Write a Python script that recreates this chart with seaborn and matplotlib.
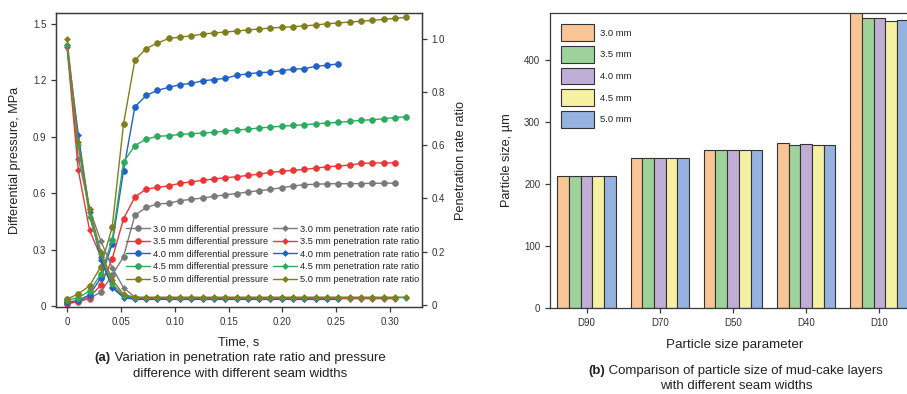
import numpy as np
import pandas as pd
import matplotlib
matplotlib.use("Agg")
import matplotlib.pyplot as plt
import seaborn as sns

# ---------------- data ----------------
dt = 0.0105  # sampling interval of the logged points, s

widths = ["3.0 mm", "3.5 mm", "4.0 mm", "4.5 mm", "5.0 mm"]

# differential pressure, MPa
p_30 = [0.015, 0.022, 0.040, 0.075, 0.165, 0.262, 0.482, 0.524, 0.542, 0.546, 0.560,
        0.567, 0.574, 0.583, 0.591, 0.598, 0.606, 0.613, 0.620, 0.629, 0.638, 0.645,
        0.647, 0.650, 0.650, 0.650, 0.651, 0.652, 0.653, 0.653]
p_35 = [0.012, 0.025, 0.050, 0.110, 0.250, 0.464, 0.578, 0.622, 0.630, 0.639, 0.652,
        0.660, 0.668, 0.675, 0.682, 0.687, 0.694, 0.701, 0.710, 0.716, 0.721, 0.726,
        0.733, 0.740, 0.744, 0.749, 0.758, 0.760, 0.761, 0.761]
p_40 = [0.020, 0.030, 0.060, 0.150, 0.330, 0.720, 1.057, 1.119, 1.146, 1.162, 1.176,
        1.183, 1.197, 1.203, 1.210, 1.226, 1.234, 1.240, 1.243, 1.250, 1.259, 1.261,
        1.274, 1.279, 1.287]
p_45 = [0.030, 0.045, 0.080, 0.170, 0.350, 0.765, 0.852, 0.887, 0.902, 0.905, 0.912,
        0.916, 0.919, 0.923, 0.930, 0.935, 0.940, 0.946, 0.951, 0.955, 0.960, 0.963,
        0.969, 0.972, 0.976, 0.981, 0.987, 0.990, 0.995, 1.001, 1.006]
p_50 = [0.037, 0.064, 0.108, 0.210, 0.420, 0.967, 1.305, 1.368, 1.397, 1.422, 1.429,
        1.436, 1.445, 1.451, 1.456, 1.461, 1.467, 1.472, 1.477, 1.481, 1.484, 1.489,
        1.493, 1.500, 1.504, 1.509, 1.513, 1.518, 1.523, 1.529, 1.534]

# penetration rate ratio
r_30 = [0.975, 0.550, 0.360, 0.240, 0.140, 0.065, 0.030, 0.026, 0.025, 0.025, 0.025,
        0.025, 0.025, 0.025, 0.025, 0.025, 0.025, 0.025, 0.025, 0.025, 0.025, 0.025,
        0.025, 0.025, 0.025, 0.025, 0.025, 0.025, 0.025, 0.025]
r_35 = [0.970, 0.507, 0.280, 0.181, 0.069, 0.032, 0.024, 0.024, 0.024, 0.024, 0.024,
        0.024, 0.024, 0.024, 0.024, 0.024, 0.024, 0.024, 0.024, 0.024, 0.024, 0.024,
        0.024, 0.024, 0.024, 0.024, 0.024, 0.024, 0.024, 0.024]
r_40 = [0.975, 0.640, 0.350, 0.170, 0.065, 0.028, 0.021, 0.021, 0.021, 0.021, 0.021,
        0.021, 0.021, 0.021, 0.021, 0.021, 0.021, 0.021, 0.021, 0.021, 0.021, 0.021,
        0.021, 0.021, 0.021]
r_45 = [0.975, 0.600, 0.330, 0.190, 0.080, 0.035, 0.028, 0.028, 0.028, 0.028, 0.028,
        0.028, 0.028, 0.028, 0.028, 0.028, 0.028, 0.028, 0.028, 0.028, 0.028, 0.028,
        0.028, 0.028, 0.028, 0.028, 0.028, 0.028, 0.028, 0.028, 0.028]
r_50 = [1.000, 0.613, 0.360, 0.200, 0.095, 0.040, 0.029, 0.029, 0.029, 0.029, 0.029,
        0.029, 0.029, 0.029, 0.029, 0.029, 0.029, 0.029, 0.029, 0.029, 0.029, 0.029,
        0.029, 0.029, 0.029, 0.029, 0.029, 0.029, 0.029, 0.029, 0.029]

pressures = [p_30, p_35, p_40, p_45, p_50]
ratios = [r_30, r_35, r_40, r_45, r_50]
line_colors = ["#7a7a7a", "#ee3535", "#1f63c6", "#2eaa60", "#7f7f1e"]

# particle size of mud-cake layers, um
params = ["D90", "D70", "D50", "D40", "D10"]
size_30 = [213, 242, 256, 267, 480]
size_35 = [213, 242, 256, 264, 468]
size_40 = [214, 242, 256, 265, 468]
size_45 = [213, 242, 256, 263, 464]
size_50 = [214, 242, 256, 264, 465]
bar_colors = ["#f7c596", "#9dd39b", "#c0aed6", "#f6f0a2", "#95b3de"]

# ---------------- style ----------------
sns.set_style("ticks")
plt.rcParams["font.family"] = ["Liberation Sans", "DejaVu Sans"]
spine_c = "#3a3a3a"
plt.rcParams.update({
    "axes.edgecolor": spine_c,
    "axes.linewidth": 0.9,
    "xtick.color": spine_c,
    "ytick.color": spine_c,
    "xtick.labelcolor": "#333333",
    "ytick.labelcolor": "#333333",
    "xtick.major.size": 3.5,
    "ytick.major.size": 3.5,
    "xtick.major.width": 0.9,
    "ytick.major.width": 0.9,
    "xtick.labelsize": 7,
    "ytick.labelsize": 7,
    "text.color": "#222222",
    "axes.labelcolor": "#222222",
})

W, H = 907, 394
fig = plt.figure(figsize=(W / 100, H / 100), dpi=100)


def box(l, t, r, b):
    return [l / W, 1 - b / H, (r - l) / W, (b - t) / H]


# ---------------- (a) time series ----------------
ax = fig.add_axes(box(56, 13, 422, 307))
ax2 = ax.twinx()

p_handles, r_handles = [], []
for w, p, r, c in zip(widths, pressures, ratios, line_colors):
    tp = np.arange(len(p)) * dt
    tr = np.arange(len(r)) * dt
    sns.lineplot(x=tp, y=p, ax=ax, color=c, lw=1.0, marker="o", markersize=4.2,
                 markeredgecolor=c, markeredgewidth=0.5,
                 label=f"{w} differential pressure", legend=False)
    sns.lineplot(x=tr, y=r, ax=ax2, color=c, lw=1.0, marker="D", markersize=3.0,
                 markeredgecolor=c, markeredgewidth=0.5,
                 label=f"{w} penetration rate ratio", legend=False)
    p_handles.append(ax.lines[-1])
    r_handles.append(ax2.lines[-1])

ax.set_xlim(-0.0102, 0.3297)
ax.set_ylim(-0.005, 1.557)
ax2.set_ylim(-0.0075, 1.0965)
ax.set_xticks([0, 0.05, 0.10, 0.15, 0.20, 0.25, 0.30])
ax.set_xticklabels(["0", "0.05", "0.10", "0.15", "0.20", "0.25", "0.30"])
ax.set_yticks([0, 0.3, 0.6, 0.9, 1.2, 1.5])
ax.set_yticklabels(["0", "0.3", "0.6", "0.9", "1.2", "1.5"])
ax2.set_yticks([0, 0.2, 0.4, 0.6, 0.8, 1.0])
ax2.set_yticklabels(["0", "0.2", "0.4", "0.6", "0.8", "1.0"])
for a in (ax, ax2):
    for s in a.spines.values():
        s.set_visible(True)
        s.set_color(spine_c)

ax.set_xlabel("Time, s", fontsize=9.2)
ax.set_ylabel("Differential pressure, MPa", fontsize=9.2)
ax2.set_ylabel("Penetration rate ratio", fontsize=9.2)
ax.xaxis.set_label_coords(0.5, -0.102)
ax.yaxis.set_label_coords(-0.0956, 0.5)
ax2.yaxis.set_label_coords(1.090, 0.5)

leg = ax2.legend(p_handles + r_handles,
                 [h.get_label() for h in p_handles + r_handles],
                 ncol=2, frameon=False, fontsize=6.7, loc="upper left",
                 bbox_to_anchor=((121 - 56) / 366, (307 - 220) / 294),
                 borderpad=0, handlelength=2.6, handletextpad=0.35,
                 columnspacing=0.5, labelspacing=0.38)

# ---------------- (b) particle size bars ----------------
bx = fig.add_axes(box(550, 12.7, 916, 308))
df = pd.DataFrame({
    "param": params * 5,
    "width": np.repeat(widths, len(params)),
    "size": size_30 + size_35 + size_40 + size_45 + size_50,
})
sns.barplot(data=df, x="param", y="size", hue="width", order=params,
            hue_order=widths, palette=bar_colors, ax=bx, width=0.8,
            edgecolor="#333333", linewidth=0.8, saturation=1)
bx.set_xlim(-0.5, 4.5)
bx.set_ylim(0, 477)
bx.set_yticks([0, 100, 200, 300, 400])
for s in bx.spines.values():
    s.set_visible(True)
    s.set_color(spine_c)
bx.set_xlabel("Particle size parameter", fontsize=9.6)
bx.set_ylabel("Particle size, µm", fontsize=9.2)
bx.xaxis.set_label_coords(0.505, -0.105)
bx.yaxis.set_label_coords(-0.101, 0.5)
bx.legend(title=None, frameon=False, fontsize=6.8, loc="upper left",
          bbox_to_anchor=((556 - 550) / 366, (308 - 19.5) / 295.3),
          borderpad=0, handlelength=3.55, handleheight=2.35,
          handletextpad=0.6, labelspacing=0.53)

# ---------------- captions ----------------
renderer = fig.canvas.get_renderer()
cap_size = 9.5


def caption(cx, y, bold, rest, size=cap_size):
    yf = 1 - y / H
    tb = fig.text(0, yf, bold, fontsize=size, fontweight="bold", va="center")
    tr = fig.text(0, yf, rest, fontsize=size, va="center")
    wb = tb.get_window_extent(renderer).width
    wr = tr.get_window_extent(renderer).width
    x0 = cx - (wb + wr) / 2
    tb.set_x(x0 / W)
    tr.set_x((x0 + wb) / W)


caption(240, 358, "(a)", " Variation in penetration rate ratio and pressure")
fig.text(240 / W, 1 - 374 / H, "difference with different seam widths",
         fontsize=cap_size, ha="center", va="center")
caption(736, 371, "(b)", " Comparison of particle size of mud-cake layers")
fig.text(736 / W, 1 - 386 / H, "with different seam widths",
         fontsize=cap_size, ha="center", va="center")

fig.savefig("out.png", dpi=100)
